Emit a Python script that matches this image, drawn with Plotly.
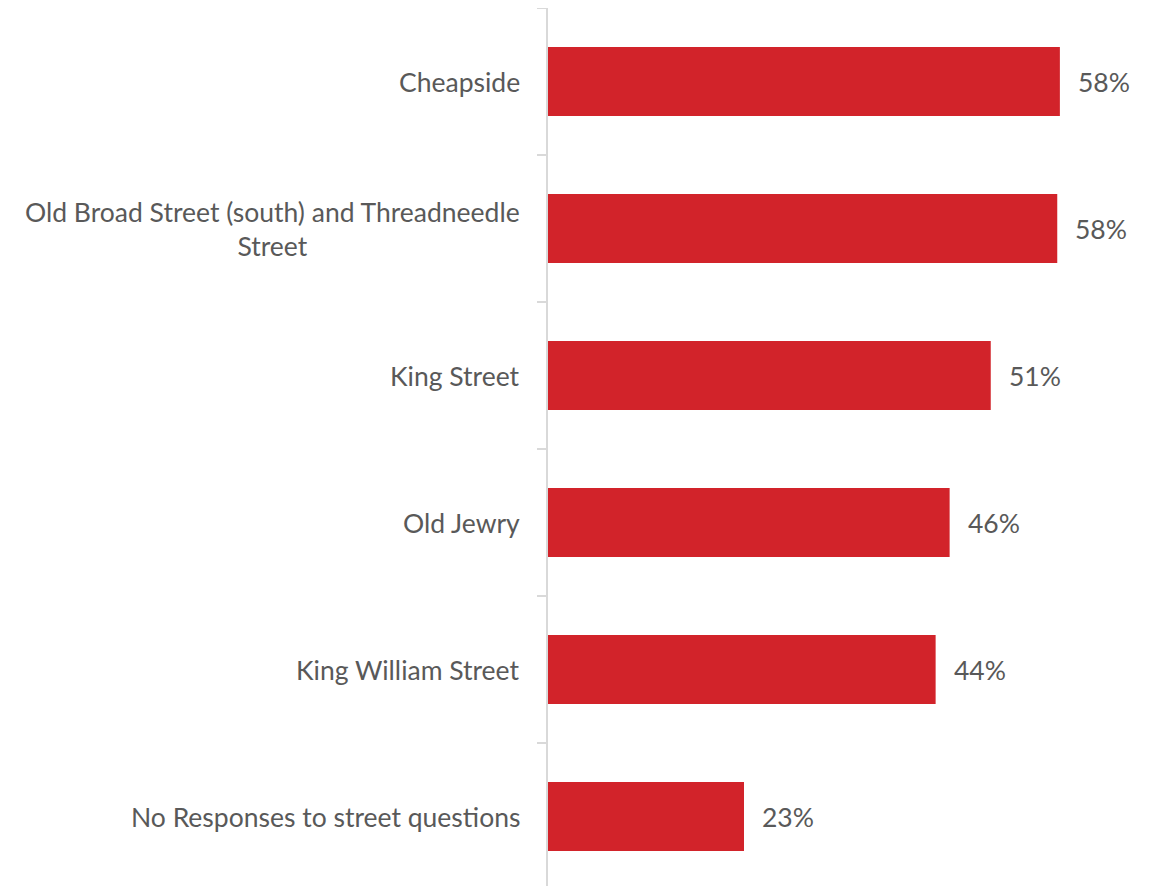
import plotly.graph_objects as go

categories = [
    "Cheapside",
    "Old Broad Street (south) and Threadneedle<br>Street",
    "King Street",
    "Old Jewry",
    "King William Street",
    "No Responses to street questions",
]
values = [58.5, 58.2, 50.6, 45.9, 44.3, 22.4]
value_labels = ["58%", "58%", "51%", "46%", "44%", "23%"]

FONT = "Lato, 'Open Sans', sans-serif"
TXT = "#595959"
BAR = "#d2232a"
GRID = "#d9d9d9"
FS = 26.5

fig = go.Figure(
    go.Bar(
        y=categories,
        x=values,
        orientation="h",
        marker=dict(color=BAR, line=dict(width=0)),
        width=0.47,
        hoverinfo="skip",
    )
)

annotations = []
for c, v, lab in zip(categories, values, value_labels):
    annotations.append(dict(
        x=v, y=c, xref="x", yref="y", text=lab, showarrow=False,
        xanchor="left", yanchor="middle", xshift=16,
        font=dict(family=FONT, size=FS, color=TXT),
    ))
    annotations.append(dict(
        x=0, y=c, xref="paper", yref="y", text=c, showarrow=False,
        xanchor="right", yanchor="middle", xshift=-26, align="center",
        font=dict(family=FONT, size=FS, color=TXT),
    ))

fig.update_layout(
    width=1155, height=886,
    margin=dict(l=540, r=8, t=0, b=8),
    paper_bgcolor="white", plot_bgcolor="white",
    showlegend=False,
    annotations=annotations,
    xaxis=dict(range=[0, 607 / 8.75], visible=False, fixedrange=True),
    yaxis=dict(
        type="category",
        categoryorder="array", categoryarray=categories,
        range=[5.5 - 4 / 147, -0.5],
        showticklabels=False,
        showline=True, linecolor=GRID, linewidth=1.5,
        ticks="outside", tickson="boundaries", ticklen=9,
        tickcolor=GRID, tickwidth=1.5,
        showgrid=False, zeroline=False,
    ),
)

fig.write_html("out.html")
